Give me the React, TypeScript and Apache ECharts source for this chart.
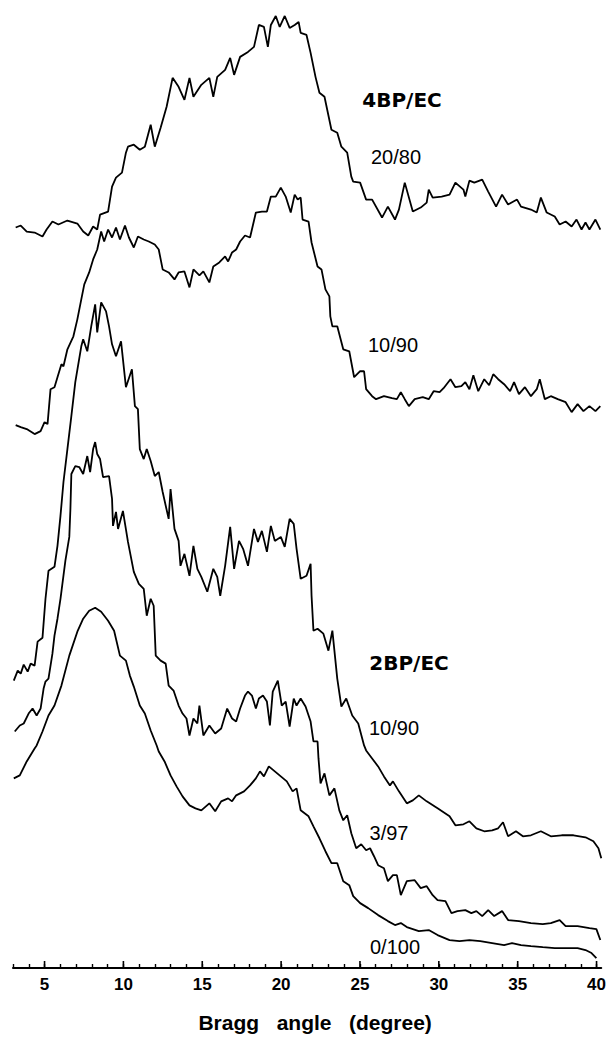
import React, { useEffect, useRef } from "react";
import * as echarts from "echarts";

// X-ray diffraction patterns: [Bragg angle (deg), intensity (a.u., traces offset vertically)]
const bp4_20_80: [number, number][] = [
  [3.17, 742], [3.49, 744], [3.87, 738], [4.37, 737], [4.87, 733], [5.13, 740], [5.5, 748], [5.88, 745],
  [6.45, 749], [7.08, 746], [7.45, 738], [7.77, 734], [8.08, 743], [8.34, 740], [8.52, 755], [9.03, 758],
  [9.28, 783], [9.53, 792], [9.91, 797], [10.16, 817], [10.29, 823], [10.66, 825], [11.04, 820], [11.36, 823],
  [11.73, 845], [11.99, 823], [12.36, 842], [12.74, 863], [13.12, 892], [13.5, 883], [13.87, 870], [14.19, 892],
  [14.44, 873], [14.94, 885], [15.45, 892], [15.7, 873], [15.95, 893], [16.45, 900], [16.77, 912], [17.02, 895],
  [17.4, 913], [17.9, 918], [18.28, 923], [18.59, 945], [18.91, 943], [19.16, 923], [19.35, 945], [19.66, 954],
  [19.91, 943], [20.23, 954], [20.54, 942], [20.86, 945], [21.11, 948], [21.24, 937], [21.61, 935], [21.87, 917],
  [22.18, 893], [22.43, 877], [22.75, 873], [23.19, 840], [23.56, 837], [23.82, 823], [24.19, 817], [24.45, 793],
  [24.57, 788], [25.01, 787], [25.39, 770], [25.77, 770], [26.4, 752], [26.77, 763], [27.22, 750], [27.47, 760],
  [27.84, 787], [28.35, 758], [28.85, 762], [29.23, 767], [29.36, 780], [29.61, 772], [30.18, 773], [30.68, 775],
  [31.05, 787], [31.56, 780], [31.68, 773], [31.94, 789], [32.25, 787], [32.75, 790], [33.13, 778], [33.63, 763],
  [34.01, 775], [34.39, 765], [34.96, 770], [35.21, 763], [35.84, 760], [36.21, 757], [36.47, 772], [36.84, 757],
  [37.35, 753], [37.66, 745], [38.04, 748], [38.42, 743], [38.73, 750], [39.05, 740], [39.3, 747], [39.55, 740],
  [39.93, 750], [40.24, 740],
];

const bp4_10_90: [number, number][] = [
  [3.17, 544], [3.49, 542], [3.87, 540], [4.37, 535], [4.75, 538], [5.0, 547], [5.19, 545], [5.38, 580],
  [5.63, 582], [5.82, 592], [6.07, 605], [6.2, 603], [6.45, 620], [6.83, 633], [7.08, 650], [7.33, 670],
  [7.52, 685], [7.83, 697], [8.08, 710], [8.34, 720], [8.59, 738], [8.78, 728], [9.03, 740], [9.28, 732],
  [9.53, 742], [9.78, 730], [10.1, 744], [10.35, 732], [10.66, 722], [10.92, 733], [11.29, 730], [11.61, 728],
  [11.99, 725], [12.24, 720], [12.49, 700], [12.87, 697], [13.24, 690], [13.5, 697], [13.87, 698], [14.19, 682],
  [14.44, 700], [14.82, 694], [15.07, 698], [15.45, 687], [15.7, 703], [16.08, 707], [16.45, 713], [16.64, 708],
  [16.89, 717], [17.15, 720], [17.4, 728], [17.71, 734], [18.03, 732], [18.4, 757], [18.78, 758], [19.1, 758],
  [19.35, 773], [19.66, 773], [19.98, 782], [20.29, 773], [20.61, 757], [20.86, 775], [21.05, 770], [21.24, 772],
  [21.36, 750], [21.74, 748], [21.93, 727], [22.31, 703], [22.56, 700], [22.81, 680], [23.06, 673], [23.12, 653],
  [23.25, 643], [23.56, 643], [23.94, 620], [24.32, 618], [24.63, 592], [25.01, 598], [25.26, 598], [25.39, 580],
  [25.77, 573], [26.02, 570], [26.52, 573], [27.03, 571], [27.34, 570], [27.59, 577], [27.84, 570], [28.1, 563],
  [28.47, 570], [28.98, 572], [29.36, 570], [29.67, 578], [30.05, 577], [30.3, 581], [30.74, 590], [31.05, 582],
  [31.43, 583], [31.68, 587], [31.94, 580], [32.19, 594], [32.5, 578], [32.88, 590], [33.19, 584], [33.45, 595],
  [33.76, 590], [34.14, 585], [34.52, 578], [34.77, 587], [35.08, 575], [35.46, 582], [35.84, 573], [36.21, 580],
  [36.4, 590], [36.72, 570], [37.1, 573], [37.54, 570], [38.04, 567], [38.42, 557], [38.8, 565], [39.17, 558],
  [39.55, 563], [39.93, 558], [40.24, 563],
];

const bp2_10_90: [number, number][] = [
  [3.05, 288], [3.3, 298], [3.49, 295], [3.68, 304], [3.93, 297], [4.12, 305], [4.37, 303], [4.56, 327],
  [4.87, 331], [5.06, 370], [5.25, 398], [5.63, 402], [5.82, 423], [6.01, 453], [6.2, 487], [6.45, 520],
  [6.7, 553], [6.95, 587], [7.33, 623], [7.45, 630], [7.71, 618], [7.96, 643], [8.21, 665], [8.34, 637],
  [8.59, 667], [8.9, 658], [9.09, 643], [9.28, 625], [9.53, 613], [9.85, 628], [10.16, 582], [10.54, 600],
  [10.73, 563], [10.92, 560], [11.04, 520], [11.29, 510], [11.48, 520], [11.73, 508], [11.99, 493], [12.24, 497],
  [12.49, 477], [12.87, 450], [12.99, 480], [13.24, 440], [13.5, 428], [13.62, 403], [13.87, 415], [14.19, 393],
  [14.44, 423], [14.69, 400], [14.94, 392], [15.32, 377], [15.7, 400], [15.95, 392], [16.14, 373], [16.45, 403],
  [16.77, 442], [17.02, 400], [17.33, 428], [17.59, 420], [17.9, 403], [18.28, 440], [18.53, 427], [18.78, 438],
  [19.1, 417], [19.35, 443], [19.6, 428], [19.98, 432], [20.23, 422], [20.54, 450], [20.8, 445], [20.98, 420],
  [21.24, 390], [21.61, 393], [21.87, 405], [21.93, 373], [22.05, 338], [22.31, 340], [22.68, 335], [23.0, 318],
  [23.25, 338], [23.56, 290], [23.82, 262], [24.13, 270], [24.51, 253], [24.89, 245], [25.26, 223], [25.39, 218],
  [25.77, 210], [26.15, 202], [26.52, 192], [26.9, 183], [27.09, 187], [27.47, 177], [27.97, 165], [28.35, 168],
  [28.73, 173], [29.23, 167], [29.92, 160], [30.68, 152], [31.05, 143], [31.56, 144], [31.94, 147], [32.38, 140],
  [32.88, 137], [33.38, 138], [33.76, 140], [34.07, 146], [34.39, 132], [34.89, 137], [35.33, 132], [35.84, 133],
  [36.47, 137], [37.1, 132], [37.79, 133], [38.54, 133], [39.3, 131], [39.8, 127], [40.12, 120], [40.3, 110],
];

const bp2_3_97: [number, number][] = [
  [3.11, 237], [3.43, 243], [3.68, 245], [3.99, 255], [4.24, 260], [4.5, 253], [4.75, 260], [4.94, 280],
  [5.06, 287], [5.25, 290], [5.5, 315], [5.63, 333], [5.82, 350], [6.01, 370], [6.32, 408], [6.57, 432],
  [6.64, 460], [6.7, 495], [6.95, 503], [7.2, 502], [7.45, 495], [7.71, 513], [7.89, 497], [8.08, 520],
  [8.21, 527], [8.34, 515], [8.52, 510], [8.71, 492], [9.09, 493], [9.28, 470], [9.34, 443], [9.53, 457],
  [9.66, 440], [9.97, 458], [10.29, 427], [10.66, 397], [10.98, 385], [11.29, 380], [11.48, 353], [11.73, 370],
  [11.92, 363], [12.05, 313], [12.36, 308], [12.68, 305], [12.87, 283], [13.18, 278], [13.5, 263], [13.75, 255],
  [14.0, 250], [14.19, 233], [14.44, 250], [14.69, 245], [14.82, 263], [15.07, 233], [15.45, 243], [15.82, 235],
  [16.2, 240], [16.58, 260], [16.89, 250], [17.15, 247], [17.4, 260], [17.71, 273], [17.9, 277], [18.15, 273],
  [18.4, 260], [18.59, 270], [18.85, 273], [19.1, 267], [19.29, 243], [19.47, 277], [19.79, 288], [20.04, 263],
  [20.29, 267], [20.54, 242], [20.8, 270], [20.98, 263], [21.24, 270], [21.55, 262], [21.87, 247], [22.05, 227],
  [22.31, 227], [22.37, 210], [22.5, 185], [22.75, 195], [23.06, 173], [23.38, 180], [23.69, 158], [23.94, 148],
  [24.19, 153], [24.45, 135], [24.76, 120], [25.08, 124], [25.39, 118], [25.64, 120], [25.89, 112], [26.15, 103],
  [26.52, 100], [26.77, 87], [27.09, 93], [27.34, 93], [27.59, 73], [27.97, 87], [28.47, 88], [28.85, 80],
  [29.23, 82], [29.61, 73], [29.92, 68], [30.42, 67], [30.8, 55], [31.18, 57], [31.68, 58], [32.06, 55],
  [32.38, 57], [32.75, 52], [33.13, 58], [33.51, 52], [34.01, 57], [34.39, 48], [35.08, 47], [35.84, 45],
  [36.59, 44], [37.1, 45], [37.66, 48], [38.04, 42], [38.8, 42], [39.55, 40], [39.99, 39], [40.24, 28],
];

const bp2_0_100: [number, number][] = [
  [3.05, 190], [3.43, 193], [3.87, 207], [4.37, 220], [4.5, 223], [4.87, 237], [5.25, 253], [5.63, 263],
  [6.07, 283], [6.57, 313], [7.08, 337], [7.45, 350], [7.83, 358], [8.21, 361], [8.59, 357], [9.03, 348],
  [9.41, 338], [9.78, 313], [10.16, 308], [10.41, 293], [10.66, 282], [11.04, 263], [11.36, 255], [11.73, 238],
  [12.11, 223], [12.24, 217], [12.61, 207], [12.99, 193], [13.37, 182], [13.75, 172], [14.19, 163], [14.57, 160],
  [14.94, 158], [15.45, 165], [15.82, 157], [16.2, 167], [16.64, 170], [16.89, 167], [17.15, 173], [17.65, 177],
  [18.03, 183], [18.4, 190], [18.66, 197], [18.91, 192], [19.22, 202], [19.6, 197], [19.98, 192], [20.36, 187],
  [20.73, 177], [20.98, 180], [21.24, 158], [21.74, 152], [22.05, 142], [22.43, 130], [22.81, 117], [23.19, 105],
  [23.56, 105], [23.94, 87], [24.32, 83], [24.57, 72], [25.01, 65], [25.52, 60], [26.15, 53], [26.77, 47],
  [27.22, 43], [27.59, 45], [27.97, 41], [28.73, 37], [29.36, 38], [29.92, 33], [30.68, 28], [31.31, 27],
  [31.94, 28], [32.63, 27], [33.38, 25], [34.14, 23], [34.64, 25], [35.21, 23], [35.84, 22], [36.59, 21],
  [37.35, 20], [38.04, 20], [38.8, 20], [39.3, 18], [39.68, 15], [39.99, 10],
];

// Long ticks at the labelled angles
const majorTicks = [5, 10, 15, 20, 25, 30, 35, 40];

const FONT = "Liberation Sans, Arial, sans-serif";
const BOLD_FONT = "DejaVu Sans, sans-serif";
const INK = "#000";

const traceSeries = (name: string, data: [number, number][]) => ({
  name,
  type: "line" as const,
  data,
  showSymbol: false,
  smooth: false,
  lineStyle: { color: INK, width: 1.8 },
  clip: false,
});

const label = (text: string, x: number, y: number, bold = false) => ({
  type: "text" as const,
  x,
  y,
  style: {
    text,
    fontFamily: bold ? BOLD_FONT : FONT,
    fontWeight: bold ? "bold" : "normal",
    fontSize: 20,
    fill: INK,
    align: "center",
    verticalAlign: "middle",
  },
});

export default function App() {
  const ref = useRef<HTMLDivElement>(null);

  useEffect(() => {
    if (!ref.current) return;
    const chart = echarts.init(ref.current, undefined, { renderer: "svg" });
    chart.setOption({
      animation: false,
      backgroundColor: "#fff",
      grid: { left: 13, right: 3, top: 0, bottom: 68 },
      xAxis: {
        type: "value",
        min: 3,
        max: 40.3,
        interval: 1,
        name: "Bragg   angle   (degree)",
        nameLocation: "middle",
        nameGap: 44,
        nameTextStyle: {
          fontFamily: FONT,
          fontWeight: "bold",
          fontSize: 21,
          color: INK,
          padding: [0, 0, 0, 16],
        },
        axisLine: { show: true, onZero: false, lineStyle: { color: INK, width: 2 } },
        axisTick: { show: true, inside: true, length: 4, lineStyle: { color: INK, width: 1.4 } },
        axisLabel: {
          margin: 8,
          fontFamily: FONT,
          fontWeight: "bold",
          fontSize: 17,
          color: INK,
          showMaxLabel: false,
          formatter: (v: number) => (Math.abs(v % 5) < 1e-9 ? String(v) : ""),
        },
        splitLine: { show: false },
      },
      yAxis: { type: "value", min: 0, max: 970, show: false },
      series: [
        traceSeries("4BP/EC 20/80", bp4_20_80),
        traceSeries("4BP/EC 10/90", bp4_10_90),
        traceSeries("2BP/EC 10/90", bp2_10_90),
        traceSeries("2BP/EC 3/97", bp2_3_97),
        traceSeries("2BP/EC 0/100", bp2_0_100),
        {
          type: "custom",
          data: majorTicks.map((t) => [t, 0]),
          encode: { x: 0, y: 1 },
          clip: false,
          silent: true,
          renderItem: (_params: any, api: any) => {
            const p = api.coord([api.value(0), api.value(1)]);
            return {
              type: "line",
              shape: { x1: p[0], y1: p[1], x2: p[0], y2: p[1] - 7 },
              style: { stroke: INK, lineWidth: 1.6 },
            };
          },
        },
      ],
      graphic: [
        label("4BP/EC", 402, 100, true),
        label("20/80", 396, 157),
        label("10/90", 393, 345),
        label("2BP/EC", 409, 663, true),
        label("10/90", 394, 728),
        label("3/97", 389, 833),
        label("0/100", 395, 947),
      ],
    });
    return () => chart.dispose();
  }, []);

  return (
    <div
      ref={ref}
      style={{ position: "fixed", left: 0, top: 0, width: 609, height: 1038 }}
    />
  );
}
